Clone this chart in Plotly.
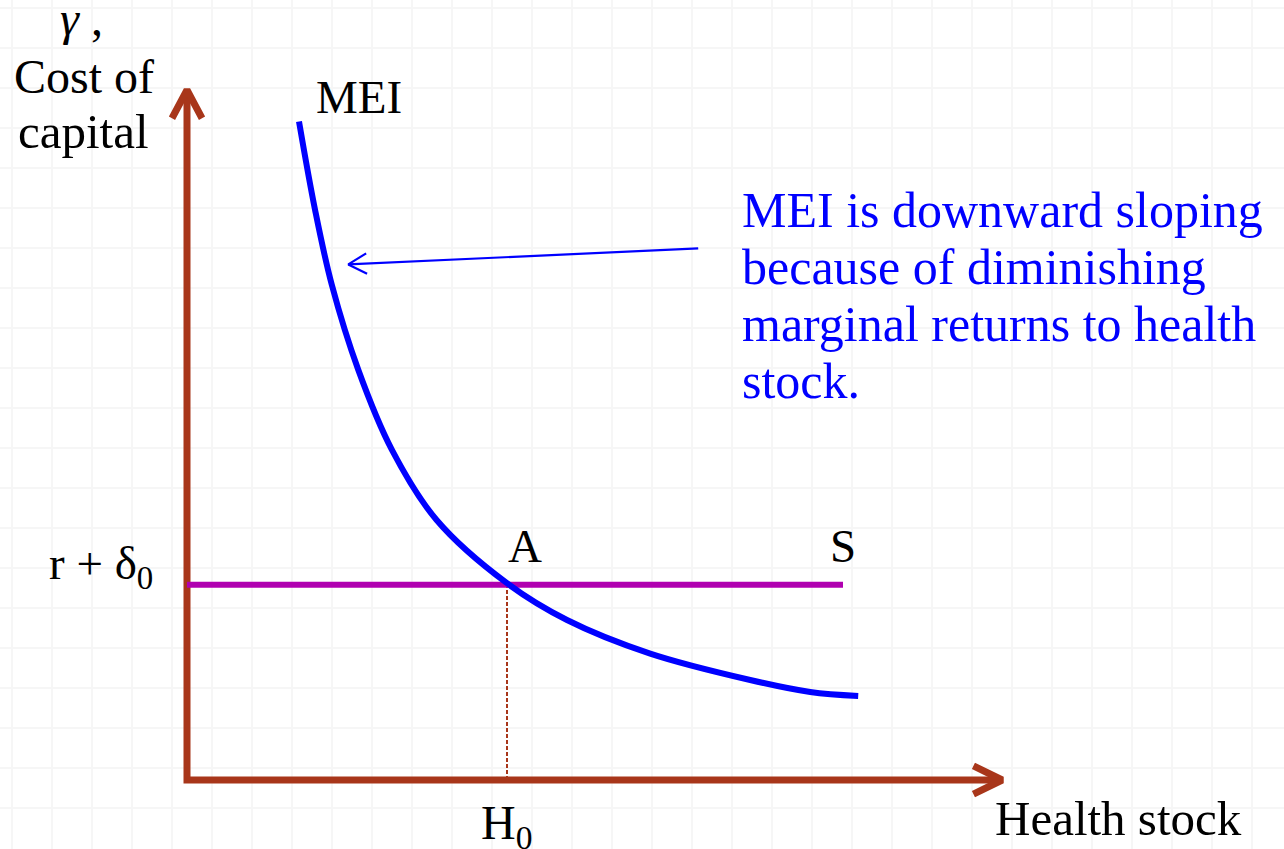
import math
import plotly.graph_objects as go

# ---------------- data (diagram units: 1 unit = 80 px) ----------------
# MEI curve (marginal efficiency of investment)
mei_h = [1.40, 1.60, 1.81, 2.14, 2.56, 3.12, 4.00, 4.75, 5.79, 7.04, 7.79, 8.39]
mei_g = [8.23, 7.13, 6.19, 5.13, 4.13, 3.25, 2.46, 2.00, 1.58, 1.25, 1.10, 1.05]

# supply of capital: horizontal at r + delta_0
s_level = 2.44
s_h = [0.0, 8.20]

# equilibrium health stock
h0 = 4.0

# axis extents
x_axis_len = 10.19
y_axis_len = 8.625

# pointer arrow (from explanatory text to the MEI curve)
pointer_start = (6.39, 6.645)
pointer_end = (2.016, 6.445)

# texts
y_title_lines = ["<i>γ</i> ,", "Cost of", "capital"]
x_title = "Health stock"
note_lines = ["MEI is downward sloping", "because of diminishing",
              "marginal returns to health", "stock."]

# ---------------- styles ----------------
AXIS_COLOR = "#A8361A"
BLUE = "#0000FF"
PURPLE = "#B000B0"
FONT = "Liberation Serif"
PX = 80.0  # pixels per unit

W, H = 1284, 849
x0_px, y0_px = 187, 780
x_range = [-x0_px / PX, (W - x0_px) / PX]
y_range = [-(H - y0_px) / PX, y0_px / PX]

fig = go.Figure()


def chevron(tip, direction_deg, length_px, half_angle_deg):
    """return x,y lists for an open arrowhead (two wings) at tip"""
    xs, ys = [], []
    back = math.radians(direction_deg + 180)
    for s in (-1, 1):
        a = back + s * math.radians(half_angle_deg)
        xs.append(tip[0] + math.cos(a) * length_px / PX)
        ys.append(tip[1] + math.sin(a) * length_px / PX)
    return [xs[0], tip[0], xs[1]], [ys[0], tip[1], ys[1]]


# axes
fig.add_trace(go.Scatter(x=[0, 0, x_axis_len], y=[y_axis_len, 0, 0], mode="lines",
                         line=dict(color=AXIS_COLOR, width=7), hoverinfo="skip"))
cx, cy = chevron((0, y_axis_len), 90, 32, 28)
fig.add_trace(go.Scatter(x=cx, y=cy, mode="lines", line=dict(color=AXIS_COLOR, width=7),
                         hoverinfo="skip"))
cx, cy = chevron((x_axis_len, 0), 0, 32, 26)
fig.add_trace(go.Scatter(x=cx, y=cy, mode="lines", line=dict(color=AXIS_COLOR, width=7),
                         hoverinfo="skip"))

# dashed drop line at H0
fig.add_trace(go.Scatter(x=[h0, h0], y=[0, s_level], mode="lines",
                         line=dict(color=AXIS_COLOR, width=2, dash="4px,2px"),
                         hoverinfo="skip"))

# S line
fig.add_trace(go.Scatter(x=s_h, y=[s_level, s_level], mode="lines",
                         line=dict(color=PURPLE, width=6), hoverinfo="skip"))

# MEI curve
fig.add_trace(go.Scatter(x=mei_h, y=mei_g, mode="lines",
                         line=dict(color=BLUE, width=6, shape="spline", smoothing=1.0),
                         hoverinfo="skip"))

# pointer arrow
fig.add_trace(go.Scatter(x=[pointer_start[0], pointer_end[0]],
                         y=[pointer_start[1], pointer_end[1]], mode="lines",
                         line=dict(color=BLUE, width=2.2), hoverinfo="skip"))
ang = math.degrees(math.atan2(pointer_end[1] - pointer_start[1],
                              pointer_end[0] - pointer_start[0]))
cx, cy = chevron(pointer_end, ang, 21, 29)
fig.add_trace(go.Scatter(x=cx, y=cy, mode="lines", line=dict(color=BLUE, width=2.2),
                         hoverinfo="skip"))


def label(text, x, y, xs, ys, size, color="black", xanchor="center"):
    fig.add_annotation(text=text, x=x, y=y, xref="x", yref="y", showarrow=False,
                       xshift=xs, yshift=ys, xanchor=xanchor, yanchor="middle",
                       font=dict(family=FONT, size=size, color=color))


# y-axis title (three centred lines)
label(y_title_lines[0], 0, y_axis_len, -106, 72, 48)
label(y_title_lines[1], 0, y_axis_len, -103, 14, 48)
label(y_title_lines[2], 0, y_axis_len, -104, -41, 49)
# x-axis title
label(x_title, x_axis_len, 0, 116, -38, 49)
# curve labels
label("MEI", mei_h[0], mei_g[0], 60, 25, 47)
label("S", s_h[1], s_level, 0, 39, 47)
label("A", h0, s_level, 18, 39, 47)
label("H<sub>0</sub>", h0, 0, -1, -46, 48)
label("r + δ<sub>0</sub>", 0, s_level, -32, 18, 47, xanchor="right")
# explanatory note
for i, line in enumerate(note_lines):
    label(line, pointer_start[0], pointer_start[1], 42, 38 - 56.7 * i, 50,
          color=BLUE, xanchor="left")

grid = dict(showgrid=True, gridcolor="#F6F6F6", gridwidth=2, zeroline=False,
            showticklabels=False, ticks="", showline=False, fixedrange=True)
fig.update_layout(
    width=W, height=H, margin=dict(l=0, r=0, t=0, b=0),
    paper_bgcolor="white", plot_bgcolor="white", showlegend=False,
    xaxis=dict(range=x_range, tick0=(12 - x0_px) / PX, dtick=0.5, **grid),
    yaxis=dict(range=y_range, tick0=(y0_px - 8) / PX, dtick=0.5, **grid),
)

fig.write_html("out.html", config={"displayModeBar": False},
               post_script="document.body.style.margin='0';document.body.style.overflow='hidden';")
